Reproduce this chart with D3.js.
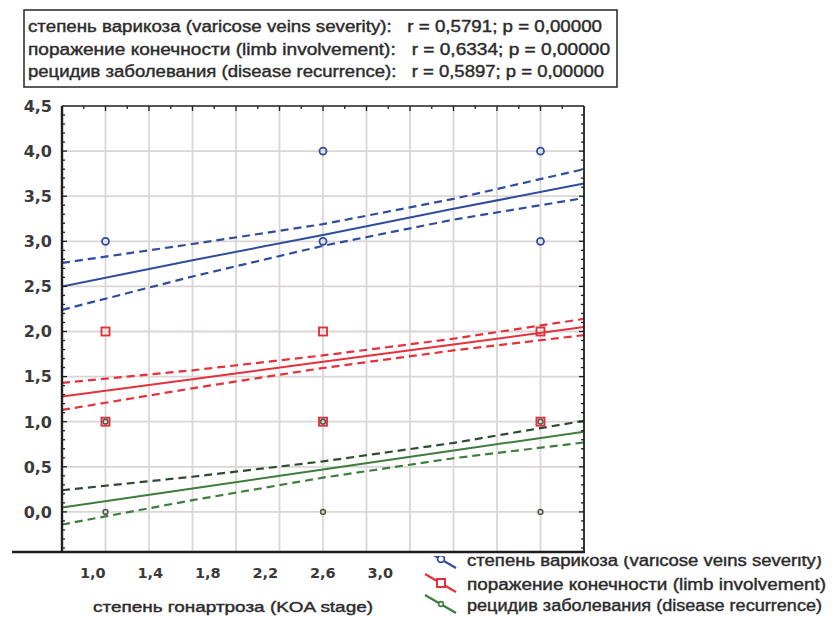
<!DOCTYPE html>
<html>
<head>
<meta charset="utf-8">
<script src="https://cdn.jsdelivr.net/npm/d3@7"></script>
<style>
  html, body { margin: 0; padding: 0; background: #ffffff; }
  svg text { white-space: pre; }
</style>
</head>
<body>
<svg id="chart" width="832" height="617"></svg>
<script>
// ---------------- DATA ----------------
const xDomain = [0.8, 3.2];
const yDomain = [-0.5, 4.5];
const xGridValues = [1.0, 1.2, 1.4, 1.6, 1.8, 2.0, 2.2, 2.4, 2.6, 2.8, 3.0];
const yTickValues = [-0.5, 0.0, 0.5, 1.0, 1.5, 2.0, 2.5, 3.0, 3.5, 4.0, 4.5];
const xTickValues = [1.0, 1.4, 1.8, 2.2, 2.6, 3.0];
const xTickLabels = ["1,0", "1,4", "1,8", "2,2", "2,6", "3,0"];

const seriesNames = [
  "степень варикоза (varicose veins severity)",
  "поражение конечности (limb involvement)",
  "рецидив заболевания (disease recurrence)"
];
const seriesR = ["0,5791", "0,6334", "0,5897"];
const seriesP = ["0,00000", "0,00000", "0,00000"];

// regression fits and 95% bands read at these x positions
const fitX = [0.8, 1.4, 2.0, 2.6, 3.2];
const varicoseFit   = [2.50, 2.79, 3.07, 3.36, 3.64];
const varicoseUpper = [2.76, 2.97, 3.19, 3.47, 3.80];
const varicoseLower = [2.24, 2.61, 2.95, 3.24, 3.48];
const limbFit   = [1.28, 1.47, 1.665, 1.855, 2.05];
const limbUpper = [1.43, 1.57, 1.735, 1.92, 2.14];
const limbLower = [1.13, 1.37, 1.595, 1.79, 1.96];
const recurFit   = [0.05, 0.26, 0.47, 0.68, 0.89];
const recurUpper = [0.24, 0.39, 0.56, 0.765, 1.01];
const recurLower = [-0.14, 0.13, 0.38, 0.595, 0.77];

// observed points [KOA stage, value]
const varicosePoints = [[1, 3], [2, 3], [2, 4], [3, 3], [3, 4]];
const limbPoints = [[1, 1], [1, 2], [2, 1], [2, 2], [3, 1], [3, 2]];
const recurPoints = [[1, 0], [1, 1], [2, 0], [2, 1], [3, 0], [3, 1]];

// ---------------- LAYOUT ----------------
const svg = d3.select("#chart");
const W = 832, H = 617;
const plot = { left: 62, right: 584, top: 106, bottom: 552 };
const x = d3.scaleLinear().domain(xDomain).range([plot.left, plot.right]);
const y = d3.scaleLinear().domain(yDomain).range([557, 106]);
// the tick labels of the original picture are printed on a compressed scale
const xLabel = d3.scaleLinear().domain(xDomain).range([plot.left + 2, plot.left + 347]);

const col = {
  blue: "#2f4d9c",
  red: "#e5313b",
  green: "#3d7d3d",
  greenDark: "#2f4a2f",
  text: "#2b2b2b",
  axis: "#1e1e1e",
  grid: "#dad6d6"
};
const labelFont = "DejaVu Sans, Verdana, sans-serif";
const textFont = "Liberation Sans, Arial, sans-serif";

svg.append("rect").attr("width", W).attr("height", H).attr("fill", "#ffffff");

svg.append("rect")
  .attr("x", plot.left).attr("y", plot.top)
  .attr("width", plot.right - plot.left).attr("height", plot.bottom - plot.top)
  .attr("fill", "#ffffff");

const defs = svg.append("defs");
defs.append("clipPath").attr("id", "plotclip").append("rect")
  .attr("x", plot.left).attr("y", plot.top)
  .attr("width", plot.right - plot.left).attr("height", plot.bottom - plot.top);

// grid
const grid = svg.append("g");
grid.selectAll("line.v").data(xGridValues).join("line")
  .attr("x1", d => x(d)).attr("x2", d => x(d))
  .attr("y1", plot.top).attr("y2", plot.bottom)
  .attr("stroke", col.grid).attr("stroke-width", 1.8);
grid.selectAll("line.h").data(yTickValues.filter(v => v > -0.5 && v < 4.5)).join("line")
  .attr("x1", plot.left).attr("x2", plot.right)
  .attr("y1", d => y(d)).attr("y2", d => y(d))
  .attr("stroke", col.grid).attr("stroke-width", 1.8);

// lines
const body = svg.append("g").attr("clip-path", "url(#plotclip)");
const lineGen = d3.line().x(d => x(d[0])).y(d => y(d[1]));
function drawLine(vals, color, dashed) {
  body.append("path")
    .datum(fitX.map((v, i) => [v, vals[i]]))
    .attr("d", lineGen)
    .attr("fill", "none")
    .attr("stroke", color)
    .attr("stroke-width", dashed ? 2.2 : 2)
    .attr("stroke-dasharray", dashed ? "8,5" : null);
}
drawLine(varicoseUpper, col.blue, true);
drawLine(varicoseLower, col.blue, true);
drawLine(varicoseFit, col.blue, false);
drawLine(limbUpper, col.red, true);
drawLine(limbLower, col.red, true);
drawLine(limbFit, col.red, false);
drawLine(recurUpper, col.greenDark, true);
drawLine(recurLower, col.green, true);
drawLine(recurFit, col.green, false);

// points
body.selectAll("circle.var").data(varicosePoints).join("circle")
  .attr("cx", d => x(d[0])).attr("cy", d => y(d[1])).attr("r", 3.5)
  .attr("fill", "none").attr("stroke", col.blue).attr("stroke-width", 1.8);
body.selectAll("rect.limb").data(limbPoints).join("rect")
  .attr("x", d => x(d[0]) - 4).attr("y", d => y(d[1]) - 4)
  .attr("width", 8).attr("height", 8)
  .attr("fill", "none").attr("stroke", col.red).attr("stroke-width", 1.9);
body.selectAll("circle.rec").data(recurPoints).join("circle")
  .attr("cx", d => x(d[0])).attr("cy", d => y(d[1])).attr("r", 2.4)
  .attr("fill", "none").attr("stroke", "#4a5a4a").attr("stroke-width", 1.5);

// ticks (inside) on left, top, right
const minorY = d3.range(-0.4, 4.5, 0.1).map(v => +v.toFixed(1));
const minorX = d3.range(0.9, 3.2, 0.1).map(v => +v.toFixed(1));
const isMajorY = d => Math.abs(d * 2 - Math.round(d * 2)) < 1e-6;
const isMajorX = d => Math.abs(d * 5 - Math.round(d * 5)) < 1e-6;
const ticks = svg.append("g").attr("stroke", col.axis).attr("stroke-width", 1.3);
ticks.selectAll("line.l").data(minorY).join("line")
  .attr("x1", plot.left).attr("x2", d => plot.left + (isMajorY(d) ? 5 : 3))
  .attr("y1", d => y(d)).attr("y2", d => y(d));
ticks.selectAll("line.r").data(minorY).join("line")
  .attr("x1", plot.right).attr("x2", d => plot.right - (isMajorY(d) ? 5 : 3))
  .attr("y1", d => y(d)).attr("y2", d => y(d));
ticks.selectAll("line.t").data(minorX).join("line")
  .attr("x1", d => x(d)).attr("x2", d => x(d))
  .attr("y1", plot.top).attr("y2", d => plot.top + (isMajorX(d) ? 5 : 3));

// y labels
svg.append("g").selectAll("text").data(yTickValues).join("text")
  .attr("x", 52).attr("y", d => y(d) + 5.8)
  .attr("text-anchor", "end")
  .attr("font-family", labelFont).attr("font-weight", "bold").attr("font-size", 16)
  .attr("fill", "#3a3a3a")
  .text(d => d3.format(".1f")(d).replace(".", ",").replace("−", "-"));

// frame
svg.append("line").attr("x1", plot.left).attr("x2", plot.right).attr("y1", plot.top).attr("y2", plot.top)
  .attr("stroke", col.axis).attr("stroke-width", 1.6);
svg.append("line").attr("x1", plot.right).attr("x2", plot.right).attr("y1", plot.top).attr("y2", plot.bottom)
  .attr("stroke", col.axis).attr("stroke-width", 1.8);
svg.append("line").attr("x1", plot.left).attr("x2", plot.left).attr("y1", plot.top).attr("y2", plot.bottom)
  .attr("stroke", col.axis).attr("stroke-width", 2.4);

// lower band hides the bottom of the y scale
svg.append("rect").attr("x", 0).attr("y", plot.bottom + 1).attr("width", W).attr("height", H - plot.bottom)
  .attr("fill", "#ffffff");
svg.append("line").attr("x1", 12).attr("x2", plot.right + 1).attr("y1", plot.bottom).attr("y2", plot.bottom)
  .attr("stroke", col.axis).attr("stroke-width", 2.4);

// x labels
svg.append("g").selectAll("text").data(xTickValues).join("text")
  .attr("x", d => xLabel(d)).attr("y", 578)
  .attr("text-anchor", "middle")
  .attr("font-family", labelFont).attr("font-weight", "bold").attr("font-size", 14.5)
  .attr("fill", "#3a3a3a")
  .text((d, i) => xTickLabels[i]);
svg.append("text")
  .attr("x", 93).attr("y", 612)
  .attr("textLength", 280).attr("lengthAdjust", "spacingAndGlyphs")
  .attr("font-family", textFont).attr("font-size", 15.5)
  .attr("fill", col.text).attr("stroke", col.text).attr("stroke-width", 0.4)
  .text("степень гонартроза (KOA stage)");

// header box
svg.append("rect").attr("x", 24).attr("y", 10).attr("width", 593).attr("height", 77)
  .attr("fill", "#ffffff").attr("stroke", "#333").attr("stroke-width", 1.6);
const headerY = [32, 55, 77];
const headerLen = [574, 582, 576];
svg.append("g").selectAll("text").data(seriesNames).join("text")
  .attr("x", 28).attr("y", (d, i) => headerY[i])
  .attr("textLength", (d, i) => headerLen[i]).attr("lengthAdjust", "spacingAndGlyphs")
  .attr("font-family", textFont).attr("font-size", 16)
  .attr("fill", col.text).attr("stroke", col.text).attr("stroke-width", 0.4)
  .text((d, i) => d + ":   r = " + seriesR[i] + "; p = " + seriesP[i]);

// legend
defs.append("clipPath").attr("id", "legclip").append("rect")
  .attr("x", 0).attr("y", 556).attr("width", W).attr("height", H - 556);
const legend = svg.append("g").attr("clip-path", "url(#legclip)");
const legendY = [561, 585, 606];
const legendLen = [355, 359, 355];
const legendColors = [col.blue, col.red, col.green];
seriesNames.forEach((name, i) => {
  const g = legend.append("g").attr("transform", `translate(441,${legendY[i] - 2})`);
  g.append("line").attr("x1", -16).attr("y1", -9).attr("x2", 15).attr("y2", 9)
    .attr("stroke", legendColors[i]).attr("stroke-width", 2.2);
  if (i === 0) {
    g.append("circle").attr("r", 3.4).attr("fill", "#fff").attr("stroke", col.blue).attr("stroke-width", 1.8);
  } else if (i === 1) {
    g.append("rect").attr("x", -4).attr("y", -4).attr("width", 8).attr("height", 8)
      .attr("fill", "#fff").attr("stroke", col.red).attr("stroke-width", 2);
  } else {
    g.append("circle").attr("r", 2.4).attr("fill", "#fff").attr("stroke", col.green).attr("stroke-width", 1.6);
  }
  legend.append("text")
    .attr("x", 467).attr("y", legendY[i] + 5)
    .attr("textLength", legendLen[i]).attr("lengthAdjust", "spacingAndGlyphs")
    .attr("font-family", textFont).attr("font-size", 16)
    .attr("fill", col.text).attr("stroke", col.text).attr("stroke-width", 0.4)
    .text(name);
});
</script>
</body>
</html>
